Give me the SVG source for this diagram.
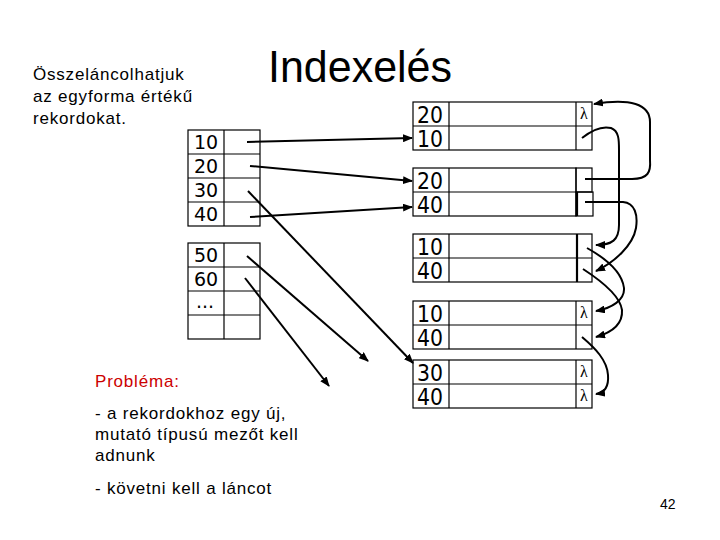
<svg xmlns="http://www.w3.org/2000/svg" width="720" height="540" viewBox="0 0 720 540">
<style>
.cell{fill:none;stroke:#000;stroke-width:1.2}
.thick{stroke:#000;stroke-width:2.2}
.lt{font-family:"DejaVu Sans",Verdana,sans-serif;font-size:19px;fill:#000}
.rn{font-family:"DejaVu Sans",Verdana,sans-serif;font-size:23px;fill:#000}
.lam{font-family:"Liberation Serif","Times New Roman",serif;font-size:16px;fill:#000;text-anchor:middle}
.txt{font-family:"Liberation Sans",Arial,sans-serif;font-size:17px;fill:#000;letter-spacing:0.8px}
.conn{fill:none;stroke:#000;stroke-width:2;marker-end:url(#ah)}
</style>
<defs>
<marker id="ah" markerUnits="userSpaceOnUse" markerWidth="10" markerHeight="8" viewBox="0 0 10 8" refX="9" refY="4" orient="auto">
<path d="M0,0 L10,4 L0,8 z" fill="#000"/>
</marker>
</defs>
<rect width="720" height="540" fill="#fff"/>

<g id="title"><text x="268" y="82" font-family="Liberation Sans,Arial,sans-serif" font-size="44" textLength="184" lengthAdjust="spacingAndGlyphs">Indexelés</text></g>

<g id="note">
<text class="txt" x="33" y="80">Összeláncolhatjuk</text>
<text class="txt" x="33" y="102">az egyforma értékű</text>
<text class="txt" x="33" y="124">rekordokat.</text>
</g>

<g id="problem">
<text class="txt" x="95" y="387" style="fill:#cc0000">Probléma:</text>
<text class="txt" x="95" y="419">- a rekordokhoz egy új,</text>
<text class="txt" x="95" y="440">mutató típusú mezőt kell</text>
<text class="txt" x="95" y="461">adnunk</text>
<text class="txt" x="95" y="494">- követni kell a láncot</text>
</g>

<g id="pagenum"><text x="660" y="509" font-family="Liberation Sans,Arial,sans-serif" font-size="14">42</text></g>

<g id="index1">
<rect class="cell" x="188" y="130" width="72" height="96"/>
<line class="cell" x1="224" y1="130" x2="224" y2="226"/>
<line class="cell" x1="188" y1="154" x2="260" y2="154"/>
<line class="cell" x1="188" y1="178" x2="260" y2="178"/>
<line class="cell" x1="188" y1="202" x2="260" y2="202"/>
<text class="lt" x="194" y="149">10</text>
<text class="lt" x="194" y="173">20</text>
<text class="lt" x="194" y="197">30</text>
<text class="lt" x="194" y="221">40</text>
</g>

<g id="index2">
<rect class="cell" x="188" y="243" width="72" height="96"/>
<line class="cell" x1="224" y1="243" x2="224" y2="339"/>
<line class="cell" x1="188" y1="267" x2="260" y2="267"/>
<line class="cell" x1="188" y1="291" x2="260" y2="291"/>
<line class="cell" x1="188" y1="315" x2="260" y2="315"/>
<text class="lt" x="194" y="262">50</text>
<text class="lt" x="194" y="286">60</text>
<text class="lt" x="196" y="308">...</text>
</g>

<g id="rec1">
<rect class="cell" x="413" y="102" width="179" height="48"/>
<line class="cell" x1="413" y1="126" x2="592" y2="126"/>
<line class="cell" x1="449" y1="102" x2="449" y2="150"/>
<line class="cell" x1="576" y1="102" x2="576" y2="150"/>
<text class="rn" x="417" y="123" textLength="26" lengthAdjust="spacingAndGlyphs">20</text>
<text class="rn" x="417" y="147" textLength="26" lengthAdjust="spacingAndGlyphs">10</text>
<text class="lam" x="584" y="119">λ</text>
</g>

<g id="rec2">
<rect class="cell" x="413" y="168" width="163" height="48"/>
<rect class="cell" x="576" y="168" width="16" height="24"/>
<rect class="cell" x="576" y="192" width="17" height="24"/>
<line class="cell" x1="413" y1="192" x2="576" y2="192"/>
<line class="cell" x1="449" y1="168" x2="449" y2="216"/>
<line class="thick" x1="577" y1="192" x2="577" y2="216"/>
<text class="rn" x="417" y="189" textLength="26" lengthAdjust="spacingAndGlyphs">20</text>
<text class="rn" x="417" y="213" textLength="26" lengthAdjust="spacingAndGlyphs">40</text>
</g>

<g id="rec3">
<rect class="cell" x="413" y="234" width="179" height="48"/>
<line class="cell" x1="413" y1="258" x2="592" y2="258"/>
<line class="cell" x1="449" y1="234" x2="449" y2="282"/>
<line class="thick" x1="577" y1="234" x2="577" y2="282"/>
<text class="rn" x="417" y="255" textLength="26" lengthAdjust="spacingAndGlyphs">10</text>
<text class="rn" x="417" y="279" textLength="26" lengthAdjust="spacingAndGlyphs">40</text>
</g>

<g id="rec4">
<rect class="cell" x="413" y="301" width="179" height="48"/>
<line class="cell" x1="413" y1="325" x2="592" y2="325"/>
<line class="cell" x1="449" y1="301" x2="449" y2="349"/>
<line class="cell" x1="576" y1="301" x2="576" y2="349"/>
<text class="rn" x="417" y="322" textLength="26" lengthAdjust="spacingAndGlyphs">10</text>
<text class="rn" x="417" y="346" textLength="26" lengthAdjust="spacingAndGlyphs">40</text>
<text class="lam" x="584" y="318">λ</text>
</g>

<g id="rec5">
<rect class="cell" x="413" y="360" width="179" height="48"/>
<line class="cell" x1="413" y1="384" x2="592" y2="384"/>
<line class="cell" x1="449" y1="360" x2="449" y2="408"/>
<line class="cell" x1="576" y1="360" x2="576" y2="408"/>
<text class="rn" x="417" y="381" textLength="26" lengthAdjust="spacingAndGlyphs">30</text>
<text class="rn" x="417" y="405" textLength="26" lengthAdjust="spacingAndGlyphs">40</text>
<text class="lam" x="584" y="377">λ</text>
<text class="lam" x="584" y="401">λ</text>
</g>

<g id="connectors">
<line class="conn" x1="247" y1="142" x2="412" y2="138"/>
<line class="conn" x1="250" y1="166" x2="412" y2="181"/>
<line class="conn" x1="250" y1="217" x2="412" y2="207"/>
<line class="conn" x1="248" y1="191" x2="413" y2="363"/>
<line class="conn" x1="247" y1="256" x2="368" y2="361"/>
<line class="conn" x1="245" y1="278" x2="329" y2="386"/>
<path class="conn" d="M585,179 L632,179 C648,179 651,172 650,160 L650,122 C650,104 630,98 594,104"/>
<path class="conn" d="M582,138 C592,130 603,126 611,128 C619,131 619,140 619,150 L619,225 C619,240 612,245 596,245"/>
<path class="conn" d="M585,202 L623,202 C635,203 638,215 636,228 C633,245 615,262 596,271"/>
<path class="conn" d="M587,248 C605,258 622,272 624,288 C625,300 612,308 596,311"/>
<path class="conn" d="M583,269 C600,280 620,295 622,310 C623,325 610,333 596,337"/>
<path class="conn" d="M582,337 C595,348 607,360 608,375 C609,388 603,393 596,394"/>
</g>
</svg>
